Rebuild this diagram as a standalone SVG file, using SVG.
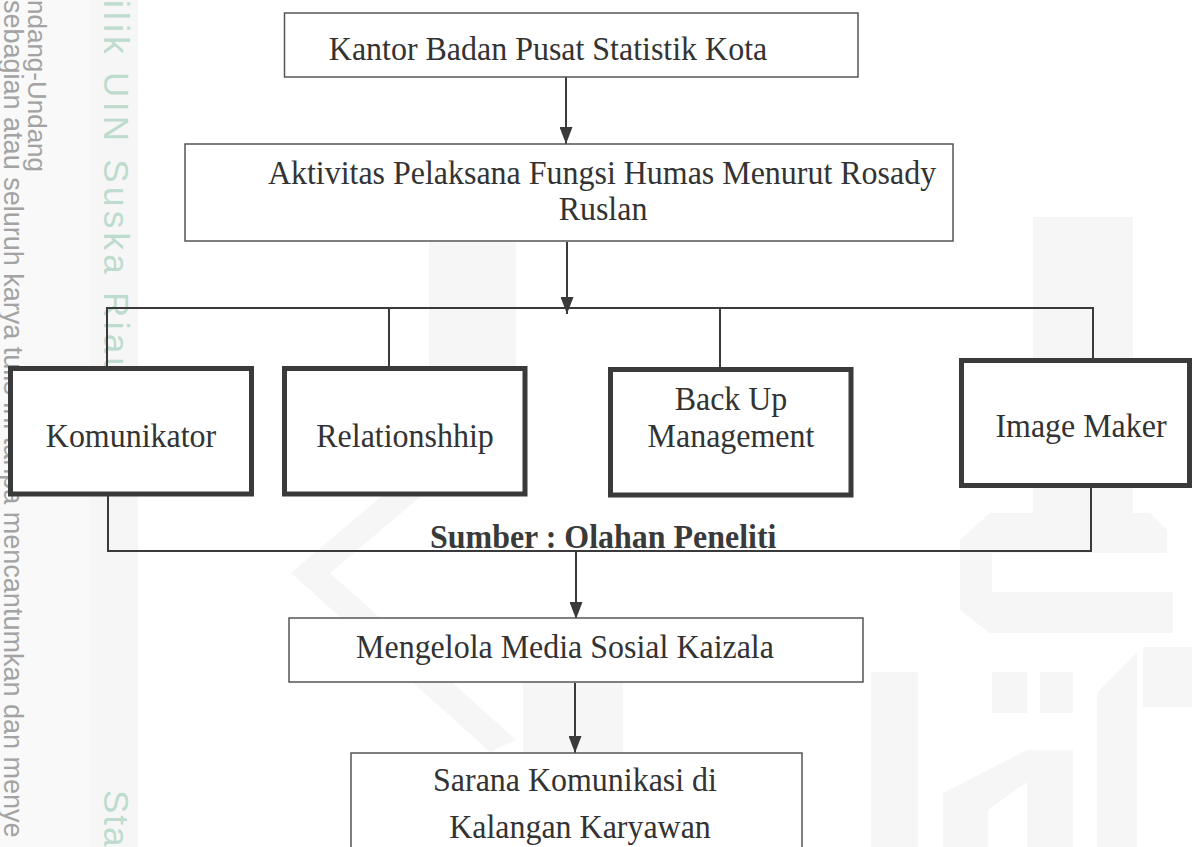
<svg xmlns="http://www.w3.org/2000/svg" width="1192" height="847" viewBox="0 0 1192 847">
<style>
.t{font-family:"Liberation Serif","Times New Roman",serif;font-size:34px;fill:#333;text-anchor:middle}
.tb{font-family:"Liberation Serif","Times New Roman",serif;font-size:34px;font-weight:bold;fill:#3a3a3a}
.thin{fill:#fff;stroke:#555;stroke-width:1.5}
.thick{fill:#fff;stroke:#3a3a3a;stroke-width:5}
.ln{fill:none;stroke:#3a3a3a;stroke-width:2}
.wm{fill:#f6f6f6}
.wg{font-family:"Liberation Sans",Arial,sans-serif;fill:#a3a3a3}
.wgr{font-family:"Liberation Sans",Arial,sans-serif;fill:#bddccd}
</style>
<defs>
<marker id="ah" markerWidth="17" markerHeight="13" refX="17" refY="6.5" orient="auto" markerUnits="userSpaceOnUse" viewBox="0 0 17 13">
<path d="M0,0 L17,6.5 L0,13 Z" fill="#3a3a3a"/>
</marker>
</defs>
<rect x="0" y="0" width="1192" height="847" fill="#fff"/>
<g id="watermark">
<rect x="0" y="0" width="90" height="847" fill="#f9f9f9"/>
<rect x="90" y="0" width="48" height="847" fill="#f6f6f6"/>
<rect class="wm" x="429" y="217" width="87" height="175"/>
<rect class="wm" x="1033" y="217" width="100" height="300"/>
<polygon class="wm" points="291,573 429,456 452,470 330,573 516,740 490,752"/>
<rect class="wm" x="523" y="672" width="100" height="175"/>
<rect class="wm" x="871" y="672" width="47" height="175"/>
<polygon class="wm" points="990,513 1150,513 1167,530 1167,553 992,553 992,592 1173,592 1173,633 990,633 960,610 960,540"/>
<rect class="wm" x="992" y="672" width="35" height="41"/>
<rect class="wm" x="1040" y="672" width="33" height="41"/>
<polygon class="wm" points="1097,693 1137,653 1137,847 1097,847"/>
<rect class="wm" x="1143" y="647" width="49" height="60"/>
<polygon class="wm" points="943,793 1027,750 1073,750 1073,847 1027,847 1027,782 988,810 988,847 943,847"/>
<text class="wg" font-size="26" transform="translate(28,0) rotate(90)">ndang-Undang</text>
<text class="wg" font-size="27" transform="translate(4,0) rotate(90)">sebagian atau seluruh karya tulis ini tanpa mencantumkan dan menye</text>
<text class="wgr" font-size="35" letter-spacing="4.3" transform="translate(104,0) rotate(90)">ilik UIN Suska Riau</text>
<text class="wgr" font-size="35" letter-spacing="2" transform="translate(104,790) rotate(90)">Sta</text>
</g>
<g id="connectors">
<line class="ln" x1="566" y1="77" x2="566" y2="144" marker-end="url(#ah)"/>
<line class="ln" x1="567" y1="242" x2="567" y2="314" marker-end="url(#ah)"/>
<polyline class="ln" points="107,366 107,308 1093,308 1093,359"/>
<line class="ln" x1="389" y1="308" x2="389" y2="366"/>
<line class="ln" x1="720" y1="308" x2="720" y2="367"/>
<polyline class="ln" points="108,496 108,551 1091,551 1091,487"/>
<line class="ln" x1="576" y1="551" x2="576" y2="619" marker-end="url(#ah)"/>
<line class="ln" x1="575" y1="683" x2="575" y2="753" marker-end="url(#ah)"/>
</g>
<g id="kantor">
<rect class="thin" x="284.5" y="13" width="573.5" height="64"/>
<text class="t" transform="translate(548,60) scale(0.94,1)">Kantor Badan Pusat Statistik Kota</text>
</g>
<g id="aktivitas">
<rect class="thin" x="185" y="144" width="768" height="97"/>
<text class="t" transform="translate(602,184) scale(0.94,1)">Aktivitas Pelaksana Fungsi Humas Menurut Rosady</text>
<text class="t" transform="translate(603,220) scale(0.94,1)">Ruslan</text>
</g>
<g id="komunikator">
<rect class="thick" x="10.5" y="368.5" width="241" height="125.5"/>
<text class="t" transform="translate(131,447) scale(0.94,1)">Komunikator</text>
</g>
<g id="relationship">
<rect class="thick" x="284.5" y="368.5" width="240.5" height="125.5"/>
<text class="t" transform="translate(405,447) scale(0.94,1)">Relationshhip</text>
</g>
<g id="backup">
<rect class="thick" x="610.5" y="369.5" width="240.5" height="125.5"/>
<text class="t" transform="translate(731,410) scale(0.94,1)">Back Up</text>
<text class="t" transform="translate(731,447) scale(0.94,1)">Management</text>
</g>
<g id="imagemaker">
<rect class="thick" x="961.5" y="360.5" width="228" height="125"/>
<text class="t" transform="translate(1081,437) scale(0.94,1)">Image Maker</text>
</g>
<g id="sumber">
<text class="tb" transform="translate(430,548) scale(0.94,1)">Sumber : Olahan Peneliti</text>
</g>
<g id="mengelola">
<rect class="thin" x="289" y="618" width="574" height="64"/>
<text class="t" transform="translate(565,658) scale(0.94,1)">Mengelola Media Sosial Kaizala</text>
</g>
<g id="sarana">
<rect class="thin" x="351" y="753" width="451" height="120"/>
<text class="t" transform="translate(575,791) scale(0.94,1)">Sarana Komunikasi di</text>
<text class="t" transform="translate(580,838) scale(0.94,1)">Kalangan Karyawan</text>
</g>
</svg>
